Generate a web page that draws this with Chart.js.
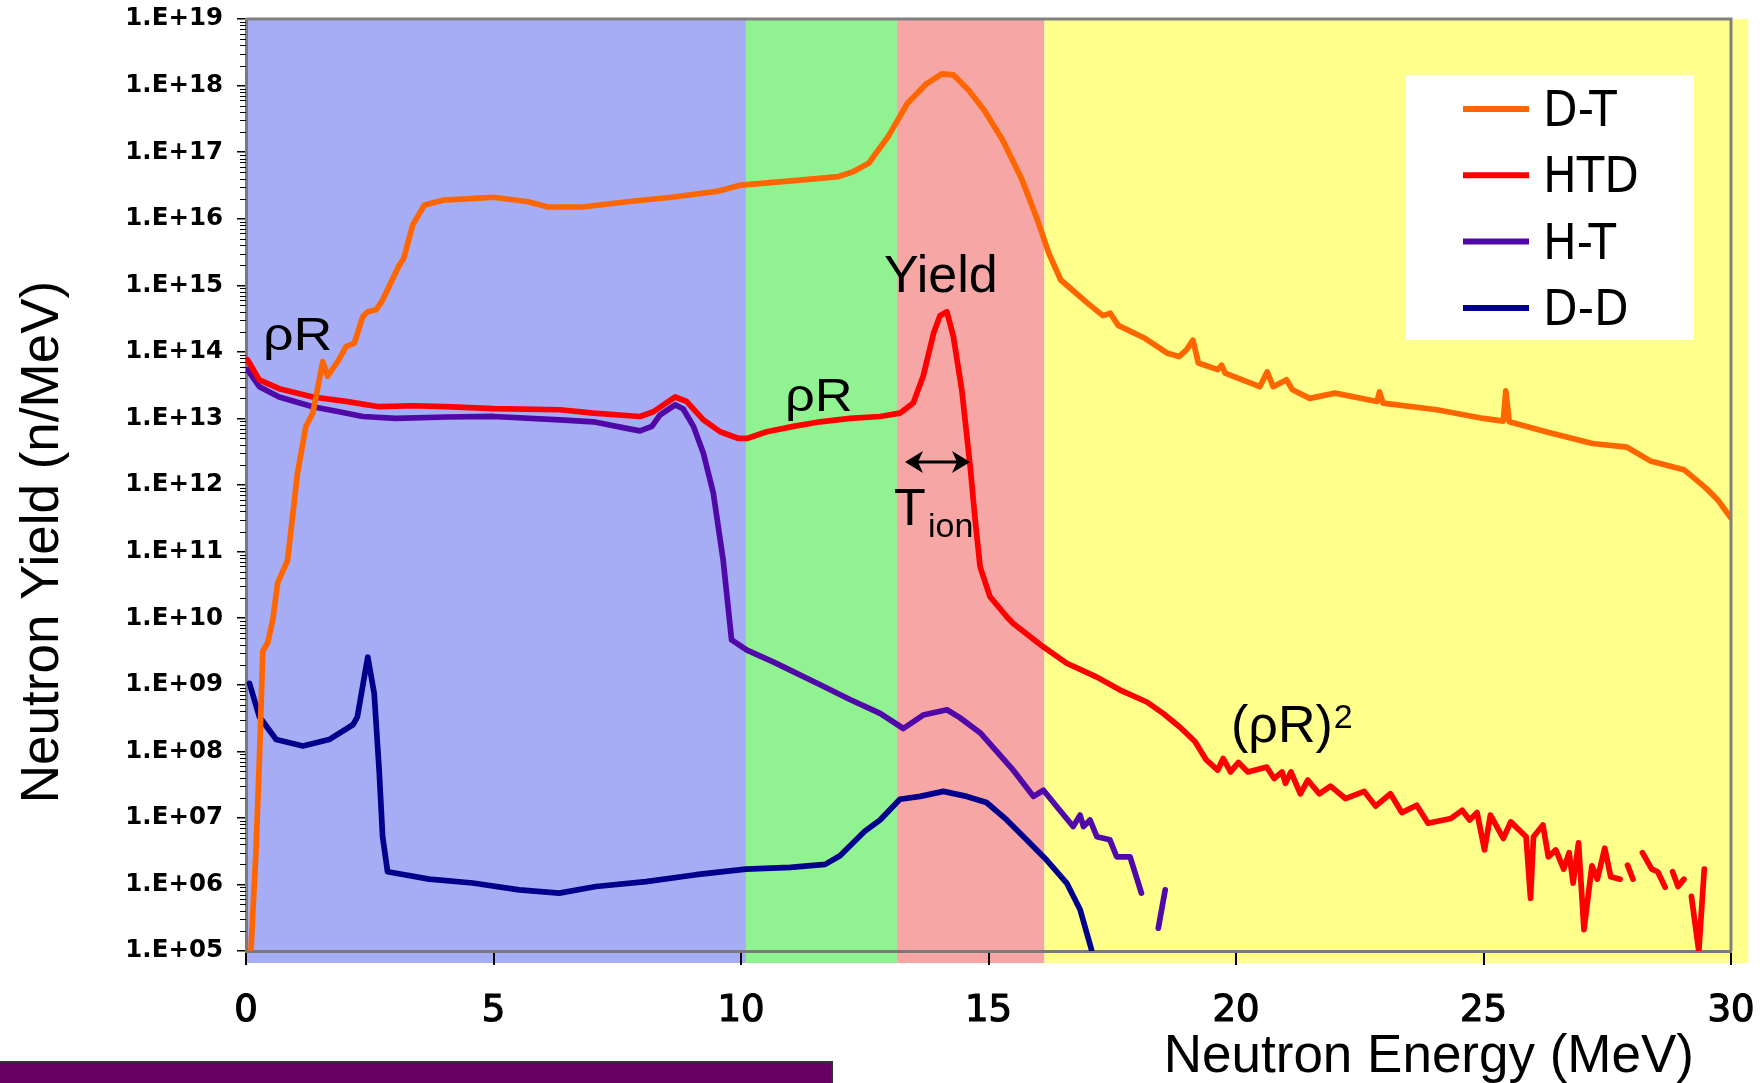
<!DOCTYPE html>
<html>
<head>
<meta charset="utf-8">
<title>Neutron yield spectrum</title>
<script src="https://cdn.jsdelivr.net/npm/chart.js@4.4.1/dist/chart.umd.min.js"></script>
<style>
  html, body { margin: 0; padding: 0; background: #fff; }
  #wrap { width: 1760px; height: 1083px; }
</style>
</head>
<body>
<div id="wrap"><canvas id="spectrum" width="1760" height="1083"></canvas></div>
<script>
// Values: energy (MeV) and yield (n/MeV)
const dtEnergy = [0.1, 0.2, 0.27, 0.34, 0.44, 0.54, 0.64, 0.84, 1.04, 1.21, 1.35, 1.48, 1.55, 1.65, 1.85, 2.02, 2.19, 2.36, 2.46, 2.63, 2.76, 3.08, 3.19, 3.37, 3.6, 3.98, 4.55, 5.0, 5.7, 6.1, 6.8, 7.7, 8.6, 9.55, 10.0, 11.19, 11.97, 12.27, 12.58, 12.97, 13.36, 13.75, 14.06, 14.29, 14.6, 14.91, 15.29, 15.68, 15.99, 16.22, 16.46, 16.77, 17.0, 17.31, 17.46, 17.62, 18.16, 18.62, 18.85, 19.0, 19.13, 19.24, 19.63, 19.71, 19.78, 20.48, 20.63, 20.75, 21.02, 21.14, 21.49, 22.0, 22.85, 22.9, 22.97, 24.06, 25.0, 25.4, 25.45, 25.52, 26.3, 27.2, 27.9, 28.37, 29.05, 29.5, 29.73, 30.0];
const dtYield = [1.0e5, 3.0e6, 7.4e7, 3.2e9, 4.3e9, 9.3e9, 3.4e10, 7.4e10, 1.5e12, 7.6e12, 1.2e13, 3.8e13, 7.1e13, 4.3e13, 7.1e13, 1.2e14, 1.35e14, 3.4e14, 4.0e14, 4.3e14, 6.0e14, 1.9e15, 2.6e15, 8.1e15, 1.6e16, 1.9e16, 2.0e16, 2.1e16, 1.8e16, 1.5e16, 1.5e16, 1.8e16, 2.1e16, 2.6e16, 3.2e16, 3.8e16, 4.3e16, 5.1e16, 6.8e16, 1.7e17, 5.4e17, 1.07e18, 1.5e18, 1.45e18, 8.5e17, 4.3e17, 1.5e17, 3.8e16, 9.5e15, 3.0e15, 1.2e15, 7.6e14, 5.4e14, 3.5e14, 3.8e14, 2.5e14, 1.6e14, 9.5e13, 8.5e13, 1.07e14, 1.5e14, 6.8e13, 5.4e13, 6.3e13, 4.8e13, 3.0e13, 5.0e13, 3.0e13, 3.8e13, 2.7e13, 2.0e13, 2.4e13, 1.8e13, 2.5e13, 1.7e13, 1.35e13, 1.0e13, 9.1e12, 2.6e13, 8.9e12, 6.2e12, 4.2e12, 3.7e12, 2.3e12, 1.7e12, 8.9e11, 6.0e11, 3.2e11];

const htdEnergy = [0.03, 0.27, 0.67, 1.35, 2.02, 2.69, 3.37, 4.04, 5.0, 6.34, 7.02, 7.96, 8.23, 8.67, 8.9, 9.24, 9.58, 9.95, 10.12, 10.52, 11.06, 11.6, 12.2, 12.81, 13.21, 13.48, 13.68, 13.89, 14.02, 14.16, 14.29, 14.46, 14.63, 14.73, 14.83, 15.03, 15.37, 15.5, 16.11, 16.58, 17.19, 17.66, 18.2, 18.53, 18.87, 19.17, 19.4, 19.63, 19.74, 19.89, 20.05, 20.24, 20.62, 20.77, 20.93, 21.0, 21.11, 21.3, 21.45, 21.68, 21.91, 22.21, 22.59, 22.82, 23.12, 23.35, 23.65, 23.88, 24.34, 24.57, 24.72, 24.87, 25.02, 25.14, 25.4, 25.55, 25.86, 25.95, 26.01, 26.2, 26.31, 26.46, 26.62, 26.73, 26.81, 26.92, 27.03, 27.19, 27.3, 27.45, 27.57, 27.76, 27.84, 27.91, 28.02, 28.1, 28.21, 28.4, 28.52, 28.67, 28.75, 28.82, 28.93, 29.05, 29.12, 29.2, 29.35, 29.46];
const htdYield = [7.6e13, 3.8e13, 2.8e13, 2.1e13, 1.8e13, 1.5e13, 1.55e13, 1.5e13, 1.4e13, 1.35e13, 1.2e13, 1.07e13, 1.26e13, 2.1e13, 1.8e13, 9.5e12, 6.3e12, 5.0e12, 5.0e12, 6.3e12, 7.6e12, 8.9e12, 1.0e13, 1.07e13, 1.2e13, 1.7e13, 4.3e13, 1.9e14, 3.5e14, 4.0e14, 1.7e14, 2.7e13, 1.9e12, 3.0e11, 5.9e10, 2.1e10, 1.05e10, 8.3e9, 3.7e9, 2.1e9, 1.3e9, 8.3e8, 5.5e8, 3.7e8, 2.3e8, 1.4e8, 7.4e7, 5.2e7, 7.8e7, 4.9e7, 6.8e7, 4.9e7, 5.8e7, 3.9e7, 4.9e7, 3.3e7, 4.9e7, 2.3e7, 3.7e7, 2.3e7, 3.0e7, 1.95e7, 2.5e7, 1.5e7, 2.3e7, 1.2e7, 1.55e7, 8.3e6, 9.8e6, 1.3e7, 9.3e6, 1.2e7, 3.3e6, 1.1e7, 4.9e6, 8.7e6, 5.2e6, 6.2e5, 5.2e6, 7.8e6, 2.6e6, 3.3e6, 1.7e6, 3.0e6, 1.05e6, 4.2e6, 2.1e5, 1.9e6, 1.2e6, 3.5e6, 1.3e6, 1.2e6, null, 1.95e6, 1.2e6, null, 3.0e6, 1.7e6, 1.55e6, 9.1e5, null, 1.55e6, 9.3e5, 1.2e6, null, 6.6e5, 1.0e5, 1.7e6];

const htEnergy = [0.03, 0.27, 0.67, 1.35, 1.88, 2.36, 3.03, 4.04, 5.0, 6.34, 7.02, 7.69, 7.96, 8.2, 8.36, 8.67, 8.83, 9.04, 9.24, 9.44, 9.64, 9.81, 10.12, 10.65, 11.6, 12.2, 12.81, 13.28, 13.68, 14.16, 14.42, 14.83, 15.5, 15.91, 16.11, 16.44, 16.71, 16.85, 16.92, 17.05, 17.19, 17.45, 17.59, 17.86, 18.09, 18.25, 18.43, 18.57];
const htYield = [5.4e13, 3.0e13, 2.1e13, 1.5e13, 1.26e13, 1.07e13, 1.0e13, 1.05e13, 1.07e13, 9.5e12, 8.9e12, 7.1e12, 6.5e12, 7.6e12, 1.12e13, 1.6e13, 1.4e13, 7.6e12, 3.0e12, 7.6e11, 7.4e10, 4.7e9, 3.3e9, 2.2e9, 1.0e9, 6.0e8, 3.7e8, 2.2e8, 3.5e8, 4.2e8, 3.2e8, 1.9e8, 5.2e7, 2.1e7, 2.6e7, 1.3e7, 7.4e6, 1.1e7, 7.4e6, 9.3e6, 5.2e6, 4.7e6, 2.6e6, 2.6e6, 7.4e5, null, 2.2e5, 8.3e5];

const ddEnergy = [0.07, 0.27, 0.61, 1.15, 1.68, 2.16, 2.25, 2.46, 2.59, 2.69, 2.76, 2.86, 3.7, 4.58, 5.52, 6.33, 7.07, 8.08, 9.09, 10.1, 11.0, 11.7, 12.0, 12.5, 12.81, 13.21, 13.62, 14.09, 14.56, 14.96, 15.37, 15.77, 16.18, 16.58, 16.85, 17.08];
const ddYield = [1.05e9, 3.3e8, 1.5e8, 1.2e8, 1.5e8, 2.5e8, 3.3e8, 2.6e9, 7.4e8, 5.2e7, 5.2e6, 1.55e6, 1.2e6, 1.05e6, 8.3e5, 7.4e5, 9.3e5, 1.1e6, 1.4e6, 1.7e6, 1.8e6, 2.0e6, 2.7e6, 6.3e6, 9.3e6, 1.9e7, 2.1e7, 2.5e7, 2.1e7, 1.7e7, 9.3e6, 4.7e6, 2.3e6, 1.05e6, 4.2e5, 1.05e5];

const seriesNames = ["D-T", "HTD", "H-T", "D-D"];
const seriesColors = ["#ff6600", "#ff0000", "#5008a8", "#00008c"];

const yExponents = [5, 6, 7, 8, 9, 10, 11, 12, 13, 14, 15, 16, 17, 18, 19];
const xTickStep = 5;

// shaded energy bands (MeV)
const bandEdges = [0, 10.1, 13.15, 16.13, 30.35];
const bandColors = ["#a7adf4", "#90f290", "#f7a6a6", "#ffff8c"];

const toPoints = (xs, ys) => xs.map((x, i) => ({ x: x, y: ys[i] }));

const backdrop = {
    id: "backdrop",
    beforeDraw(chart) {
        const { ctx, chartArea: a, scales } = chart;
        ctx.save();
        ctx.fillStyle = "#fff";
        ctx.fillRect(0, 0, chart.width, chart.height);
        for (let i = 0; i < bandColors.length; i++) {
            const l = scales.x.getPixelForValue(bandEdges[i]);
            const r = scales.x.getPixelForValue(bandEdges[i + 1]);
            ctx.fillStyle = bandColors[i];
            ctx.fillRect(l, a.top, r - l, a.bottom - a.top + 12);
        }
        ctx.restore();
    },
};

// stretched text, the labels on the plot are a bit wide
function wideText(ctx, text, x, y, sx) {
    ctx.save();
    ctx.translate(x, y);
    ctx.scale(sx, 1);
    ctx.fillText(text, 0, 0);
    ctx.restore();
}

const overlay = {
    id: "overlay",
    afterDraw(chart) {
        const { ctx, chartArea: a, scales } = chart;
        ctx.save();

        // frame on top and right
        ctx.strokeStyle = "#808080";
        ctx.lineWidth = 3;
        ctx.beginPath();
        ctx.moveTo(a.left, a.top);
        ctx.lineTo(a.right, a.top);
        ctx.lineTo(a.right, a.bottom);
        ctx.stroke();

        // minor ticks on the log axis
        ctx.strokeStyle = "#000";
        ctx.lineWidth = 1.2;
        ctx.beginPath();
        for (let e = yExponents[0]; e < yExponents[yExponents.length - 1]; e++) {
            for (let m = 2; m <= 9; m++) {
                const py = Math.round(scales.y.getPixelForValue(m * Math.pow(10, e))) + 0.5;
                ctx.moveTo(a.left - 6, py);
                ctx.lineTo(a.left, py);
            }
        }
        ctx.stroke();

        // legend box
        ctx.fillStyle = "#fff";
        ctx.fillRect(1406, 75, 288, 265);
        ctx.font = '50px "DejaVu Sans Condensed", "DejaVu Sans", sans-serif';
        ctx.textBaseline = "middle";
        ctx.textAlign = "left";
        chart.data.datasets.forEach((ds, i) => {
            const ly = 109 + i * 66.3;
            ctx.strokeStyle = ds.borderColor;
            ctx.lineWidth = 6;
            ctx.beginPath();
            ctx.moveTo(1463, ly);
            ctx.lineTo(1529, ly);
            ctx.stroke();
            ctx.fillStyle = "#000";
            ctx.fillText(ds.label, 1543, ly + 4);
        });

        // annotations
        ctx.fillStyle = "#000";
        ctx.textBaseline = "alphabetic";
        ctx.font = '46px "Liberation Sans", Arial, sans-serif';
        wideText(ctx, "\u03c1R", 263, 350, 1.17);
        wideText(ctx, "\u03c1R", 785, 411, 1.14);
        ctx.font = '52px "Liberation Sans", Arial, sans-serif';
        ctx.fillText("Yield", 884, 292);
        ctx.fillText("T", 894, 525);
        ctx.font = '34px "Liberation Sans", Arial, sans-serif';
        ctx.fillText("ion", 928, 537);
        ctx.font = '52px "Liberation Sans", Arial, sans-serif';
        ctx.fillText("(\u03c1R)", 1231, 742);
        const w = ctx.measureText("(\u03c1R)").width;
        ctx.font = '34px "Liberation Sans", Arial, sans-serif';
        ctx.fillText("2", 1231 + w + 1, 728);

        // T_ion arrow
        const ay = 462, ax1 = 905, ax2 = 970;
        ctx.strokeStyle = "#000";
        ctx.lineWidth = 3;
        ctx.beginPath();
        ctx.moveTo(ax1 + 8, ay);
        ctx.lineTo(ax2 - 8, ay);
        ctx.stroke();
        ctx.beginPath();
        ctx.moveTo(ax1, ay);
        ctx.lineTo(ax1 + 18, ay - 11);
        ctx.lineTo(ax1 + 13, ay);
        ctx.lineTo(ax1 + 18, ay + 11);
        ctx.closePath();
        ctx.moveTo(ax2, ay);
        ctx.lineTo(ax2 - 18, ay - 11);
        ctx.lineTo(ax2 - 13, ay);
        ctx.lineTo(ax2 - 18, ay + 11);
        ctx.closePath();
        ctx.fill();

        // axis titles
        ctx.font = '53px "Liberation Sans", Arial, sans-serif';
        ctx.textAlign = "right";
        ctx.fillText("Neutron Energy (MeV)", 1694, 1072);
        ctx.save();
        ctx.translate(58, 542);
        ctx.rotate(-Math.PI / 2);
        ctx.textAlign = "center";
        ctx.fillText("Neutron Yield (n/MeV)", 0, 0);
        ctx.restore();

        // purple bar at the bottom
        ctx.fillStyle = "#660066";
        ctx.fillRect(0, 1063, 831, 20);
        ctx.strokeStyle = "#333";
        ctx.lineWidth = 2;
        ctx.beginPath();
        ctx.moveTo(0, 1062);
        ctx.lineTo(832, 1062);
        ctx.lineTo(832, 1083);
        ctx.stroke();

        ctx.restore();
    },
};

const ctx = document.getElementById("spectrum").getContext("2d");
const spectrumChart = new Chart(ctx, {
    type: "line",
    data: {
        datasets: [
            { label: seriesNames[0], data: toPoints(dtEnergy, dtYield), borderColor: seriesColors[0] },
            { label: seriesNames[1], data: toPoints(htdEnergy, htdYield), borderColor: seriesColors[1] },
            { label: seriesNames[2], data: toPoints(htEnergy, htYield), borderColor: seriesColors[2] },
            { label: seriesNames[3], data: toPoints(ddEnergy, ddYield), borderColor: seriesColors[3] },
        ],
    },
    options: {
        responsive: false,
        animation: false,
        devicePixelRatio: 1,
        spanGaps: false,
        layout: { padding: { left: 0, top: 19, right: 29, bottom: 0 } },
        elements: {
            point: { radius: 0 },
            line: { borderWidth: 5.7, tension: 0, fill: false, borderJoinStyle: "round", borderCapStyle: "round" },
        },
        plugins: {
            legend: { display: false },
            tooltip: { enabled: false },
        },
        scales: {
            x: {
                type: "linear",
                min: 0,
                max: 30,
                afterFit: (s) => {
                    s.height = 132;
                    s.paddingLeft = 0;
                    s.paddingRight = 0;
                },
                ticks: {
                    stepSize: xTickStep,
                    color: "#000",
                    padding: 24,
                    maxRotation: 0,
                    textStrokeColor: "#000",
                    textStrokeWidth: 1.2,
                    font: { family: '"DejaVu Sans", sans-serif', size: 37 },
                },
                grid: { drawOnChartArea: false, drawTicks: true, tickLength: 14, color: "#000", lineWidth: 2 },
                border: { display: true, color: "#7a7a7a", width: 3 },
            },
            y: {
                type: "logarithmic",
                min: Math.pow(10, yExponents[0]),
                max: Math.pow(10, yExponents[yExponents.length - 1]),
                afterFit: (s) => {
                    s.width = 246;
                    s.paddingTop = 0;
                    s.paddingBottom = 0;
                },
                afterBuildTicks: (s) => {
                    s.ticks = yExponents.map((e) => ({ value: Math.pow(10, e) }));
                },
                ticks: {
                    color: "#000",
                    padding: 14,
                    font: { family: '"DejaVu Sans", sans-serif', size: 24.5, weight: "bold" },
                    callback: (v) => "1.E+" + String(Math.round(Math.log10(v))).padStart(2, "0"),
                },
                grid: { drawOnChartArea: false, drawTicks: true, tickLength: 9, color: "#000", lineWidth: 1.5 },
                border: { display: true, color: "#7a7a7a", width: 3 },
            },
        },
    },
    plugins: [backdrop, overlay],
});
</script>
</body>
</html>
